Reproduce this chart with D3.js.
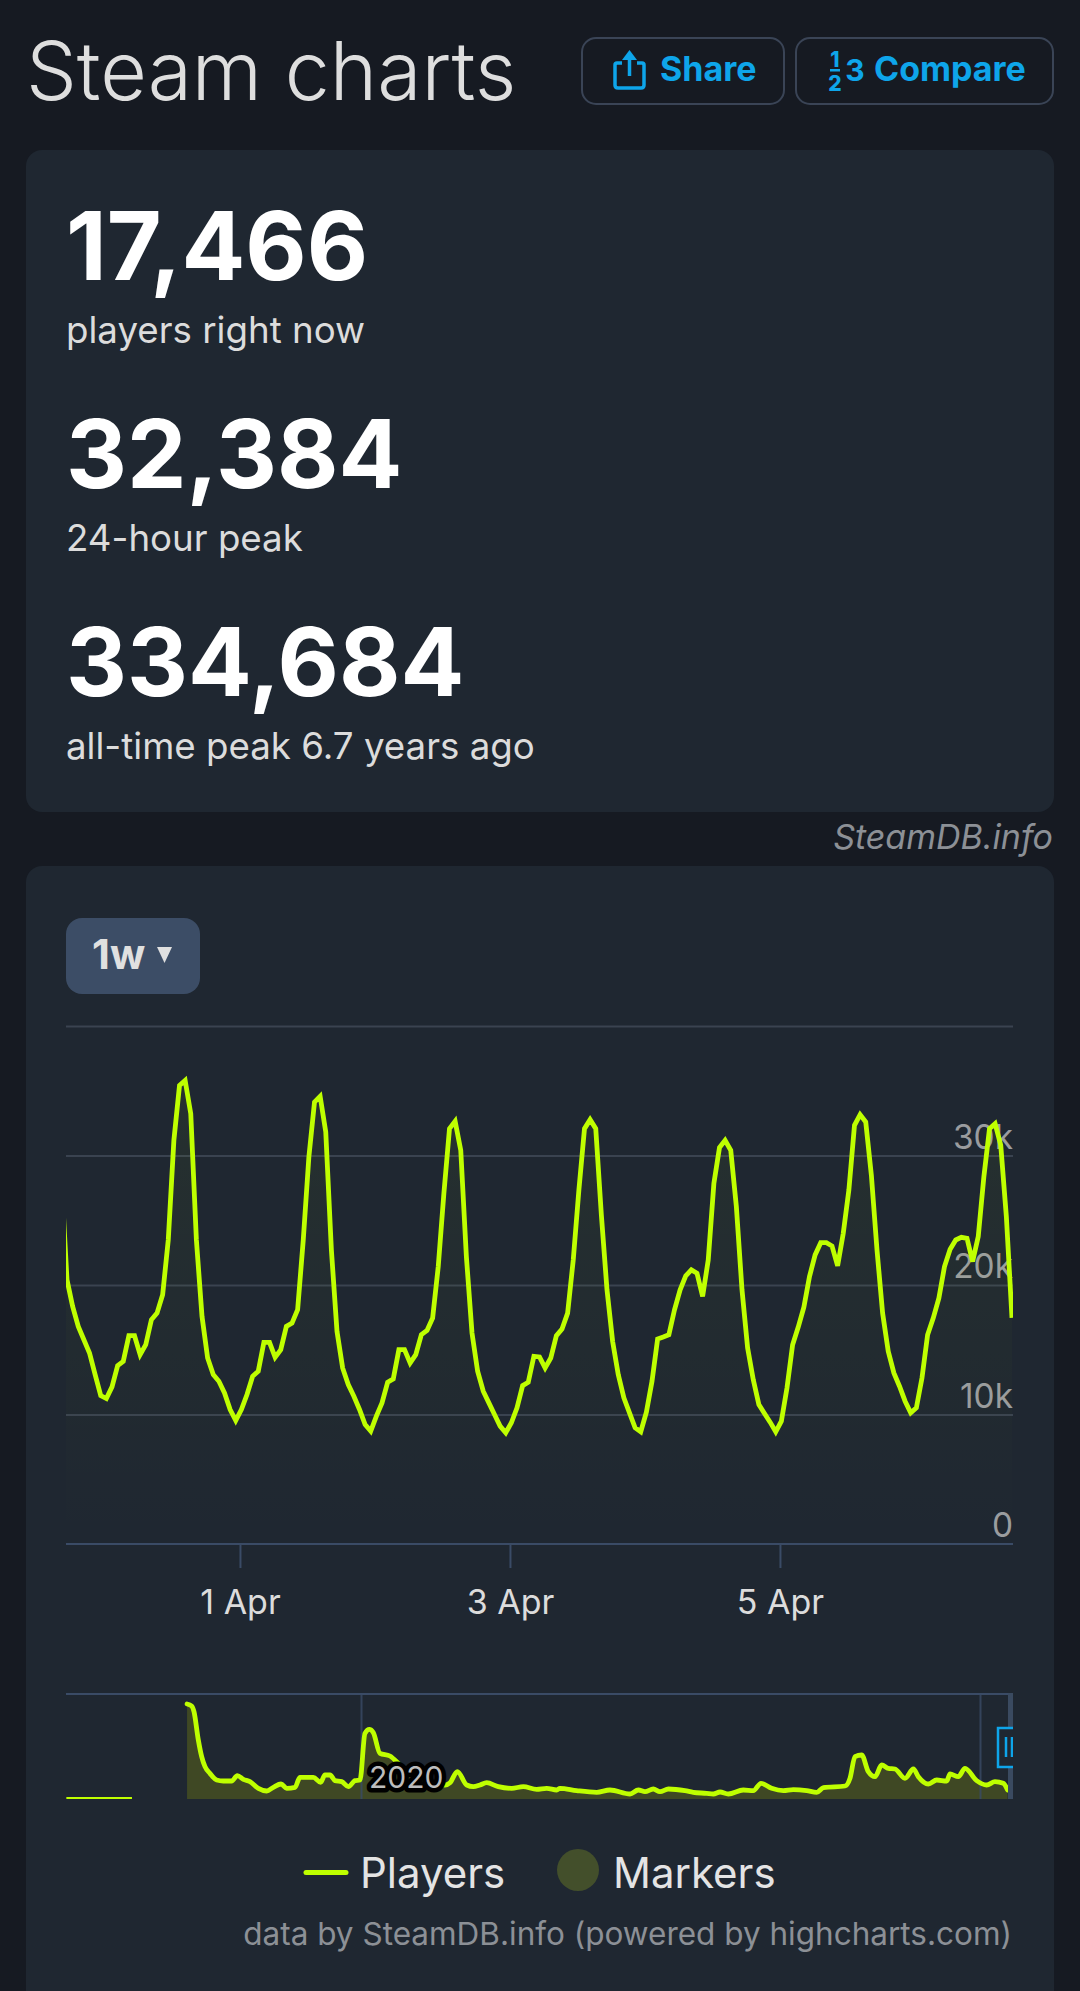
<!DOCTYPE html>
<html>
<head>
<meta charset="utf-8">
<script src="https://cdn.jsdelivr.net/npm/d3@7"></script>
<style>
html,body{margin:0;padding:0;background:#161a22;}
svg{display:block;font-family:Inter,"Noto Sans",sans-serif;}
</style>
</head>
<body>
<svg id="c" width="1080" height="1991"></svg>
<script>
// ---------- data ----------
const statValues = ["17,466", "32,384", "334,684"];
const statLabels = ["players right now", "24-hour peak", "all-time peak 6.7 years ago"];
const yTicks = [0, 10000, 20000, 30000, 40000];
const xTickDays = [1, 3, 5];
// hourly player counts, first value is the clipped hour before the visible window
const players = [28300,
20397,18343,16803,15776,14749,13081,11464,11233,12131,13774,14108,16084,16084,14621,15391,17316,17830,19242,23477,31178,35414,35799,33232,23477,
17573,14364,13081,12567,11669,10385,9538,10385,11541,12952,13338,15571,15571,14416,15006,16803,17060,18086,23477,29895,34130,34567,31820,22707,
16418,13594,12311,11412,10385,9230,8717,9872,10899,12490,12747,15006,15006,13979,14621,16161,16495,17445,21424,27071,32077,32641,30408,22194,
16290,13338,11797,10899,10000,9102,8589,9359,10514,12234,12490,14493,14441,13594,14364,16084,16598,17830,21937,27328,32077,32770,32077,25402,
19627,15648,13081,11284,10129,8974,8666,10180,12567,15828,15982,16161,18086,19627,20705,21167,20910,19113,21937,27841,30613,31178,30408,26044,
19627,15134,12696,10771,10077,9410,8666,9487,12054,15391,16752,18292,20653,22322,23272,23272,23015,21475,23991,27328,32333,33155,32590,28483,
22707,17830,14878,13209,12182,11027,10129,10514,12824,16161,17445,18985,21424,22758,23477,23683,23606,21809,23734,28354,32077,32462,30793,25274,
17466];
// navigator: decimal years and players
const navYears = [2018.595,2018.632,2018.651,2018.686,2018.713,2018.740,2018.780,2018.834,2018.888,2018.955,2019.001,2019.050,2019.103,2019.171,2019.238,2019.292,2019.354,2019.400,2019.467,2019.507,2019.615,2019.674,2019.709,2019.750,2019.790,2019.844,2019.898,2019.952,2019.992,2020.032,2020.067,2020.100,2020.153,2020.234,2020.315,2020.450,2020.557,2020.679,2020.719,2020.778,2020.854,2020.907,2020.961,2021.015,2021.109,2021.217,2021.311,2021.419,2021.500,2021.581,2021.607,2021.742,2021.904,2022.011,2022.173,2022.240,2022.294,2022.361,2022.415,2022.483,2022.617,2022.684,2022.792,2022.846,2022.900,2022.967,2023.088,2023.169,2023.231,2023.317,2023.411,2023.492,2023.600,2023.681,2023.735,2023.910,2023.950,2023.990,2024.044,2024.098,2024.152,2024.206,2024.260,2024.313,2024.394,2024.462,2024.502,2024.583,2024.650,2024.731,2024.758,2024.825,2024.879,2024.973,2025.054,2025.121,2025.188,2025.223];
const navPlayers = [334684,327600,307700,207800,149100,113900,90400,66900,63400,63400,82200,69300,61100,37600,28200,41100,52800,37600,41100,76300,76300,58700,84500,84500,64600,61100,43400,64600,66900,231300,245400,233700,160900,151500,119800,72800,55200,49300,57500,96300,49300,43400,49300,57500,43400,37600,43400,34100,37600,31700,37600,29400,23500,31700,17600,31700,25800,35200,25800,35200,29400,23500,20000,17600,24700,17600,31700,29400,55200,37600,29400,32900,29400,23500,39900,45800,72800,149100,155000,96300,78700,119800,108000,105700,72800,105700,78700,52800,66900,63400,88100,78700,108000,64600,49300,61100,55200,31700];
const navEarlyYears = [2017.62, 2018.15];
const navEarlyPlayers = [0, 0];
const navTickYears = [2020, 2025];
const legendNames = ["Players", "Markers"];

// ---------- palette ----------
const LIME = "#bfff00", CARD = "#1f2731", GRID = "#3a4350", AXIS = "#3a4b66", BLUE = "#0ea5ea";

const svg = d3.select("#c");
const defs = svg.append("defs");
function card(y, h) {
  svg.append("rect").attr("x",26).attr("y",y).attr("width",1028).attr("height",h).attr("rx",16).attr("fill",CARD);
}
function text(x, y, s, size, fill, opts) {
  opts = opts || {};
  return svg.append("text").attr("x",x).attr("y",y).text(s)
    .attr("font-size",size).attr("fill",fill)
    .attr("font-weight",opts.w||400)
    .attr("text-anchor",opts.a||"start")
    .attr("font-style",opts.i?"italic":"normal");
}

// ---------- header ----------
text(26,100,"Steam charts",80.5,"#dedede",{w:300});
function button(x,w){
  svg.append("rect").attr("x",x).attr("y",38).attr("width",w).attr("height",66).attr("rx",14)
    .attr("fill","none").attr("stroke","#3a4456").attr("stroke-width",2);
}
button(582,202); button(796,257);
svg.append("path").attr("d","M622 63 H617 Q615 63 615 65 V85 Q615 88 618 88 H641 Q644 88 644 85 V65 Q644 63 642 63 H637")
  .attr("fill","none").attr("stroke",BLUE).attr("stroke-width",3.5);
svg.append("path").attr("d","M629.5 76 V56").attr("stroke",BLUE).attr("stroke-width",3.5);
svg.append("path").attr("d","M629.5 50 L637 60 H622 Z").attr("fill",BLUE);
text(660,81,"Share",34,BLUE,{w:700});
text(835,67,"1",21,BLUE,{w:800,a:"middle"});
svg.append("rect").attr("x",830).attr("y",69).attr("width",10).attr("height",2.5).attr("fill",BLUE);
text(835,91,"2",21,BLUE,{w:800,a:"middle"});
text(855,81,"3",30,BLUE,{w:700,a:"middle"});
text(874,81,"Compare",34,BLUE,{w:700});

// ---------- stats card ----------
card(150,662);
statValues.forEach((v,i)=>{
  text(66,280+i*208,v,94.5,"#ffffff",{w:700});
  text(66,343+i*208,statLabels[i],36.7,"#dcdcdc");
});
text(1053,849,"SteamDB.info",34,"#8c9096",{a:"end",i:true});

// ---------- chart card ----------
card(866,1140);
svg.append("rect").attr("x",66).attr("y",918).attr("width",134).attr("height",76).attr("rx",16).attr("fill","#3c4d66");
text(92,969,"1w",41.5,"#e0e0e0",{w:700});
svg.append("path").attr("d","M157 947 H172 L164.5 963 Z").attr("fill","#e0e0e0");

const t0 = Date.UTC(2025,2,30,17,15);
const HOUR = 3600000;
const x = d3.scaleUtc().domain([new Date(t0-0.18*HOUR), new Date(t0+168.18*HOUR)]).range([66,1013]);
const y = d3.scaleLinear().domain([0,40000]).range([1544,1026]);
const mainData = players.map((v,i)=>({t:new Date(t0+(i-1)*HOUR), v}));
const xTicks = xTickDays.map(d=>new Date(Date.UTC(2025,3,d)));

defs.append("clipPath").attr("id","mainClip").append("rect").attr("x",66).attr("y",1000).attr("width",947).attr("height",560);
defs.append("clipPath").attr("id","navClip").append("rect").attr("x",66).attr("y",1690).attr("width",947).attr("height",112);
const grad = defs.append("linearGradient").attr("id","areaGrad").attr("x1",0).attr("x2",0).attr("y1",0).attr("y2",1);
grad.append("stop").attr("offset","0").attr("stop-color",LIME).attr("stop-opacity",0.045);
grad.append("stop").attr("offset","1").attr("stop-color",LIME).attr("stop-opacity",0);

// horizontal grid from the y axis
const gridG = svg.append("g").attr("transform","translate(66,0)")
  .call(d3.axisRight(y).tickValues(yTicks.slice(1)).tickSize(947).tickFormat(""));
gridG.select(".domain").remove();
gridG.selectAll("line").attr("stroke",GRID).attr("stroke-width",2);

// y labels
const fmtK = v => v===0 ? "0" : (v/1000)+"k";
svg.append("g").selectAll("text").data(yTicks.slice(0,4)).join("text")
  .attr("x",1013).attr("y",d=>y(d)-7).attr("text-anchor","end")
  .attr("font-size",33.4).attr("fill","#9a9c9f").text(fmtK);

// bottom axis
const xAxis = svg.append("g").attr("transform","translate(0,1544)")
  .call(d3.axisBottom(x).tickValues(xTicks).tickSize(24).tickSizeOuter(0).tickPadding(22)
    .tickFormat(d=>d.getUTCDate()+" Apr"));
xAxis.select(".domain").attr("stroke",AXIS).attr("stroke-width",2).attr("d","M66,0H1013");
xAxis.selectAll("line").attr("stroke",AXIS).attr("stroke-width",2);
xAxis.selectAll("text").attr("font-size",34).attr("fill","#dcdcdc").attr("font-family","Inter");

// main series
const mg = svg.append("g").attr("clip-path","url(#mainClip)");
mg.append("path").datum(mainData).attr("fill","url(#areaGrad)")
  .attr("d",d3.area().x(d=>x(d.t)).y0(y(0)).y1(d=>y(d.v)));
mg.append("path").datum(mainData).attr("fill","none").attr("stroke",LIME).attr("stroke-width",4.8)
  .attr("stroke-linejoin","miter")
  .attr("d",d3.line().x(d=>x(d.t)).y(d=>y(d.v)));

// ---------- navigator ----------
const nx = d3.scaleLinear().domain([2020,2025]).range([361,980]);
const ny = d3.scaleLinear().domain([0,334684]).range([1799,1704]);
const navData = navYears.map((yr,i)=>({yr, v:navPlayers[i]}));
const navEarly = navEarlyYears.map((yr,i)=>({yr, v:navEarlyPlayers[i]}));
const ng = svg.append("g").attr("clip-path","url(#navClip)");
ng.append("path").datum(navData).attr("fill","#3f4824")
  .attr("d",d3.area().x(d=>nx(d.yr)).y0(ny(0)).y1(d=>ny(d.v)));
const navLine = d3.line().x(d=>nx(d.yr)).y(d=>ny(d.v)).curve(d3.curveMonotoneX);
const navAxis = svg.append("g").attr("transform","translate(0,1694)")
  .call(d3.axisBottom(nx).tickValues(navTickYears).tickSize(105).tickSizeOuter(0).tickFormat(""));
navAxis.select(".domain").attr("stroke",AXIS).attr("stroke-width",2).attr("d","M66,0H1013");
navAxis.selectAll("line").attr("stroke",AXIS).attr("stroke-opacity",0.8).attr("stroke-width",2);
const ng2 = svg.append("g").attr("clip-path","url(#navClip)");
ng2.append("path").datum(navData).attr("fill","none").attr("stroke",LIME).attr("stroke-width",4.8)
  .attr("stroke-linejoin","round").attr("stroke-linecap","round").attr("d",navLine);
ng2.append("path").datum(navEarly).attr("fill","none").attr("stroke",LIME).attr("stroke-width",2)
  .attr("d",d3.line().x(d=>nx(d.yr)).y(d=>ny(d.v)-1));
// selection band and handle
const hg = svg.append("g").attr("clip-path","url(#navClip)");
hg.append("rect").attr("x",1008).attr("y",1693).attr("width",5).attr("height",106).attr("fill","#3a4a60");
hg.append("rect").attr("x",998).attr("y",1728).attr("width",20).attr("height",39).attr("fill",CARD).attr("stroke",BLUE).attr("stroke-width",2.5);
hg.append("path").attr("d","M1006 1737 V1757 M1012 1737 V1757").attr("stroke",BLUE).attr("stroke-width",2.5);
// year label
svg.append("text").attr("x",369).attr("y",1788).text("2020").attr("font-size",30).attr("fill","#bdbdbd")
  .attr("stroke","#000").attr("stroke-width",9).attr("stroke-linejoin","round").attr("paint-order","stroke");

// ---------- legend ----------
svg.append("line").attr("x1",306).attr("x2",346).attr("y1",1872.5).attr("y2",1872.5).attr("stroke",LIME).attr("stroke-width",5).attr("stroke-linecap","round");
text(360,1888,legendNames[0],42,"#e4e4e4");
svg.append("circle").attr("cx",578).attr("cy",1870).attr("r",21).attr("fill","#434f2b");
text(613,1888,legendNames[1],42,"#e4e4e4");
text(1012,1945,"data by SteamDB.info (powered by highcharts.com)",31.5,"#8c9096",{a:"end"});
</script>
</body>
</html>
